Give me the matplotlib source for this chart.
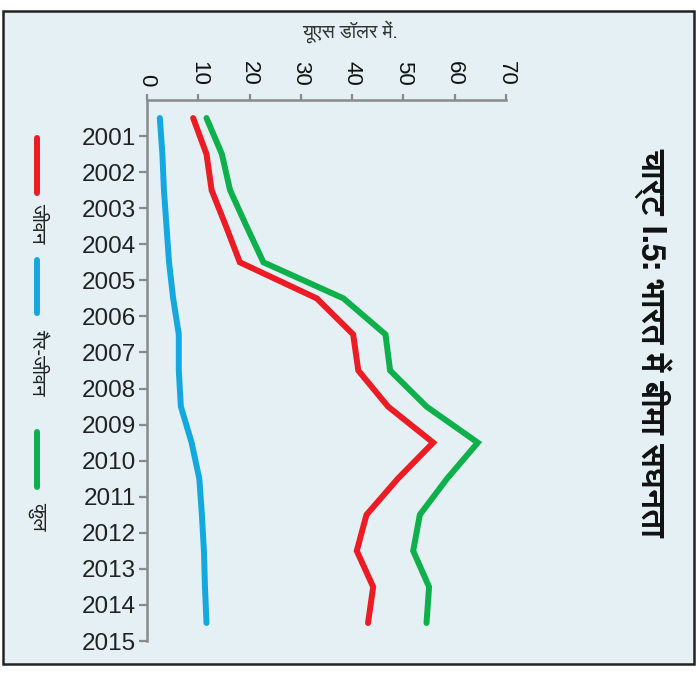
import matplotlib
matplotlib.use("Agg")
import matplotlib.pyplot as plt
from matplotlib import font_manager
from matplotlib.ft2font import FT2Font
from matplotlib.lines import Line2D
from matplotlib.patches import Rectangle

# years on the category axis, values in US dollars
years = list(range(2001, 2016))
life = [9.0, 11.6, 12.6, 15.4, 18.1, 33.1, 40.2, 41.2, 47.0, 55.8, 48.9, 42.8, 40.9, 44.1, 43.1]
non_life = [2.5, 3.0, 3.3, 3.8, 4.3, 5.1, 6.2, 6.2, 6.6, 8.7, 10.2, 10.7, 11.1, 11.3, 11.6]
total = [11.6, 14.6, 16.2, 19.4, 22.7, 38.3, 46.5, 47.4, 54.5, 64.5, 58.5, 53.2, 51.9, 55.0, 54.5]

series_names = ["जीवन", "गैर-जीवन", "कुल"]
series_colors = ["#ED1C24", "#14A8E0", "#0DB04B"]
title_text = "चार्ट I.5: भारत में बीमा सघनता"
unit_text = "यूएस डॉलर में."

BG = "#E4F0F4"
AXC = "#8A8A8A"


def fonts_with(ch):
    # every installed face that actually has the glyph
    found = []
    seen = set()
    for f in font_manager.fontManager.ttflist:
        if f.fname in seen:
            continue
        seen.add(f.fname)
        try:
            if ord(ch) in FT2Font(f.fname).get_charmap():
                found.append(f)
        except Exception:
            pass
    return found


cands = fonts_with("भ")
names = sorted({f.name for f in cands},
               key=lambda n: ("Mono" in n, "Sans" not in n, n))
deva = names[0] if names else None
deva_bold = any(f.name == deva and f.weight in ("bold", 700, 600, "semibold") for f in cands)
hindi_family = [deva, "DejaVu Sans"] if deva else ["DejaVu Sans"]

narrow = [f.name for f in font_manager.fontManager.ttflist if f.name == "Liberation Sans Narrow"]
num_family = ["Liberation Sans Narrow"] if narrow else ["Liberation Sans"]
plt.rcParams["font.family"] = ["Liberation Sans", "DejaVu Sans"]

fig = plt.figure(figsize=(6.96, 6.77), dpi=100)
fig.patch.set_facecolor("white")
W, H = 696, 677

# framed panel behind everything
fig.patches.append(Rectangle((3 / W, 1 - 664 / H), 691 / W, 653 / H, transform=fig.transFigure,
                             facecolor=BG, edgecolor="#222222", linewidth=1.8, zorder=-5))

ax = fig.add_axes([147 / W, 1 - 641 / H, 359 / W, 541 / H])
ax.set_zorder(2)
ax.set_facecolor("none")

pos = [i - 0.5 for i in range(len(years))]
for vals, c in zip([life, non_life, total], series_colors):
    ax.plot(vals, pos, color=c, lw=4.3, solid_capstyle="round", solid_joinstyle="miter")

ax.set_xlim(0, 70)
ax.set_ylim(14, -1)
ax.set_xticks(range(0, 71, 10))
ax.set_yticks(range(len(years)))
ax.set_yticklabels([str(y) for y in years], fontsize=17.5, color="#222222")
ax.xaxis.tick_top()
ax.tick_params(axis="x", direction="out", length=4, width=1.6, color=AXC, pad=6,
               labelsize=19 if narrow else 16, labelcolor="#111111", labelrotation=-90)
ax.tick_params(axis="y", direction="out", length=6, width=1.6, color=AXC, pad=2)
for lab in ax.get_xticklabels():
    lab.set_va("bottom")
    lab.set_ha("center")
    lab.set_family(num_family)
for s in ["right", "bottom"]:
    ax.spines[s].set_visible(False)
for s in ["top", "left"]:
    ax.spines[s].set_color(AXC)
    ax.spines[s].set_linewidth(1.8)

fig.text(350 / W, 1 - 32 / H, unit_text, family=hindi_family, fontsize=14,
         color="#333333", ha="center", va="center")

fig.text(652 / W, 1 - 342 / H, title_text, family=hindi_family, fontsize=24,
         fontweight="bold" if deva_bold else "normal",
         rotation=-90, ha="center", va="center", color="#111111")

# legend: short vertical strokes with rotated labels under them
legend_spans = [(138, 193, 223), (260, 313, 362), (432, 487, 516)]
for name, c, (y0, y1, ly) in zip(series_names, series_colors, legend_spans):
    fig.lines.append(Line2D([37 / W, 37 / W], [1 - y0 / H, 1 - y1 / H], transform=fig.transFigure,
                            color=c, lw=4.3, solid_capstyle="round"))
    fig.text(38 / W, 1 - ly / H, name, family=hindi_family, fontsize=14.5, rotation=-90,
             ha="center", va="center", color="#222222")

fig.savefig("out.png", dpi=100, facecolor="white")
